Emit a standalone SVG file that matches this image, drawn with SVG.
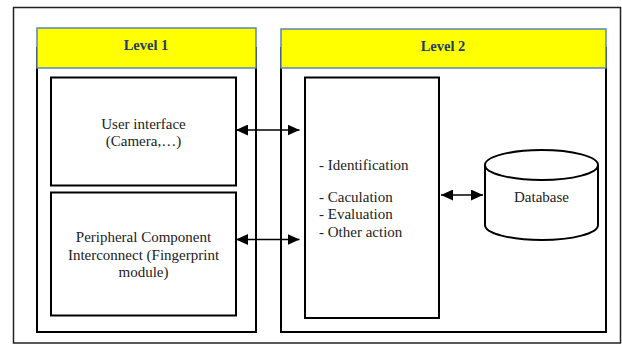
<svg xmlns="http://www.w3.org/2000/svg" width="622" height="345" viewBox="0 0 622 345">
<defs>
<marker id="ah" viewBox="0 0 12 11" refX="12" refY="5.5" markerWidth="12" markerHeight="11" markerUnits="userSpaceOnUse" orient="auto-start-reverse">
<path d="M0,0 L12,5.5 L0,11 Z" fill="#000"/>
</marker>
<style>
.frame{fill:#fff;stroke:#222;stroke-width:1.5}
.box{fill:#fff;stroke:#000;stroke-width:2}
.hdr{fill:#ffff00;stroke:#5b84bd;stroke-width:1.5}
text{font-family:'Liberation Serif','Times New Roman',Tinos,'DejaVu Serif',serif}
.ht{font-weight:bold;font-size:14.5px;fill:#1f3d6b;text-anchor:middle}
.t{font-size:15px;fill:#222}
.c{text-anchor:middle}
.conn{stroke:#000;stroke-width:1.5;fill:none;marker-start:url(#ah);marker-end:url(#ah)}
</style>
</defs>
<rect width="622" height="345" fill="#fff"/>
<rect class="frame" x="13.5" y="7.5" width="607" height="335.5"/>
<g id="level1">
<rect class="box" x="37" y="48" width="219" height="284"/>
<rect class="hdr" x="37" y="28" width="219" height="40"/>
<text class="ht" x="146" y="50" font-family="Liberation Serif, serif">Level 1</text>
</g>
<g id="level2">
<rect class="box" x="281" y="48" width="325" height="284"/>
<rect class="hdr" x="281" y="29" width="325" height="39"/>
<text class="ht" x="443" y="50.5" font-family="Liberation Serif, serif">Level 2</text>
</g>
<g id="user-interface">
<rect class="box" x="51" y="77.5" width="185" height="108"/>
<text class="t c" x="143.5" y="129">User interface</text>
<text class="t c" x="143.5" y="146">(Camera,…)</text>
</g>
<g id="peripheral">
<rect class="box" x="51" y="192.5" width="185" height="123"/>
<text class="t c" x="143.5" y="242">Peripheral Component</text>
<text class="t c" x="143.5" y="259.5">Interconnect (Fingerprint</text>
<text class="t c" x="143.5" y="277">module)</text>
</g>
<g id="processing">
<rect class="box" x="305" y="77.5" width="134" height="240.5"/>
<text class="t" x="319" y="169.5">- Identification</text>
<text class="t" x="319" y="201.5">- Caculation</text>
<text class="t" x="319" y="219">- Evaluation</text>
<text class="t" x="319" y="236.5">- Other action</text>
</g>
<g id="database">
<path d="M485,165 L485,225 A56.5,15 0 0 0 598,225 L598,165" fill="#fff" stroke="#000" stroke-width="2"/>
<ellipse cx="541.5" cy="165" rx="56.5" ry="15" fill="#fff" stroke="#000" stroke-width="2"/>
<text class="t c" x="541.5" y="202">Database</text>
</g>
<g id="connectors">
<line class="conn" x1="236" y1="130" x2="299.5" y2="130"/>
<line class="conn" x1="236" y1="239.5" x2="299.5" y2="239.5"/>
<line class="conn" x1="441" y1="195" x2="483" y2="195"/>
</g>
</svg>
